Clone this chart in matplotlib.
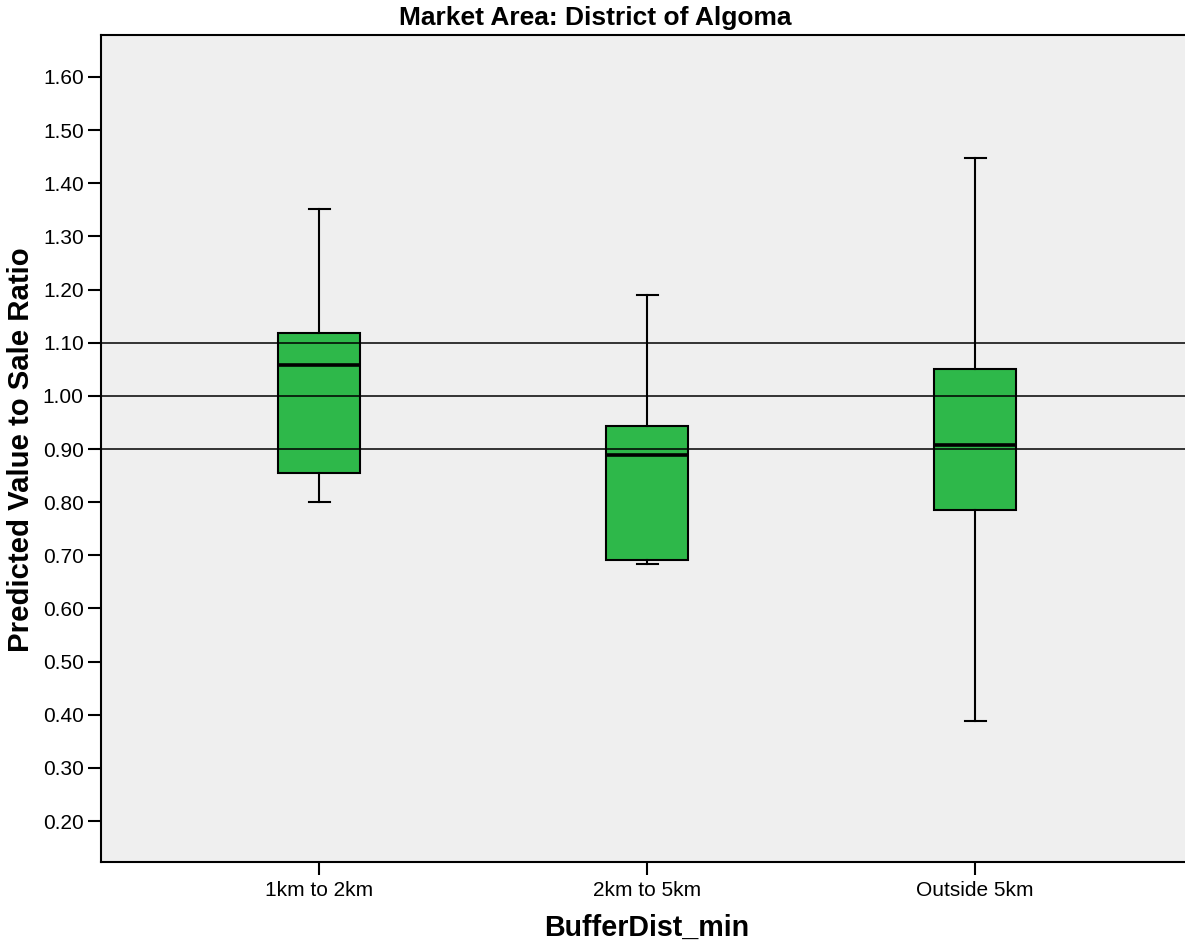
import matplotlib
matplotlib.use("Agg")
import matplotlib.pyplot as plt

categories = ["1km to 2km", "2km to 5km", "Outside 5km"]
whisker_low = [0.800, 0.684, 0.388]
q1 = [0.855, 0.691, 0.786]
median = [1.058, 0.889, 0.908]
q3 = [1.118, 0.944, 1.051]
whisker_high = [1.351, 1.189, 1.448]
ref_lines = [0.90, 1.00, 1.10]
yticks = [0.20, 0.30, 0.40, 0.50, 0.60, 0.70, 0.80, 0.90, 1.00, 1.10, 1.20, 1.30, 1.40, 1.50, 1.60]

plt.rcParams['font.family'] = ['Liberation Sans', 'DejaVu Sans']

W, H = 1185, 947
fig = plt.figure(figsize=(W / 100, H / 100), dpi=100)
ax = fig.add_axes([101 / W, (H - 862) / H, 1 - 101 / W, (862 - 35.5) / H])
ax.set_facecolor('#efefef')

stats = []
for i, c in enumerate(categories):
    stats.append(dict(label=c, whislo=whisker_low[i], q1=q1[i], med=median[i],
                      q3=q3[i], whishi=whisker_high[i], fliers=[]))

pos = list(range(1, len(categories) + 1))
ax.bxp(stats, positions=pos, widths=0.25, capwidths=0.064, showfliers=False,
       patch_artist=True,
       boxprops=dict(facecolor='#2eb84a', edgecolor='black', linewidth=1.5),
       whiskerprops=dict(color='black', linewidth=1.5),
       capprops=dict(color='black', linewidth=1.5),
       medianprops=dict(color='black', linewidth=2.6, zorder=5))

for r in ref_lines:
    ax.axhline(r, color='black', linewidth=1.1, zorder=4)

ax.set_xlim(0.335, 3.64)
ax.set_ylim(0.123, 1.678)
ax.set_yticks(yticks)
ax.set_yticklabels([f"{v:.2f}" for v in yticks])
ax.set_xticks(pos)
ax.set_xticklabels(categories)
ax.tick_params(axis='both', length=9.5, width=1.5, labelsize=15, color='black')
ax.tick_params(axis='y', pad=3)
ax.tick_params(axis='x', pad=4)
for s in ['left', 'bottom', 'top']:
    ax.spines[s].set_linewidth(1.5)
ax.spines['right'].set_visible(False)

fig.text(595 / W, 1 - 25 / H, "Market Area: District of Algoma", ha='center',
         va='baseline', fontsize=19, fontweight='bold')
fig.text(647 / W, 1 - 936 / H, "BufferDist_min", ha='center', va='baseline',
         fontsize=20.6, fontweight='bold')
fig.text(21 / W, 1 - 450 / H, "Predicted Value to Sale Ratio", ha='center',
         va='center', rotation=90, fontsize=21.2, fontweight='bold')

fig.savefig("out.png", dpi=100, facecolor='white')
